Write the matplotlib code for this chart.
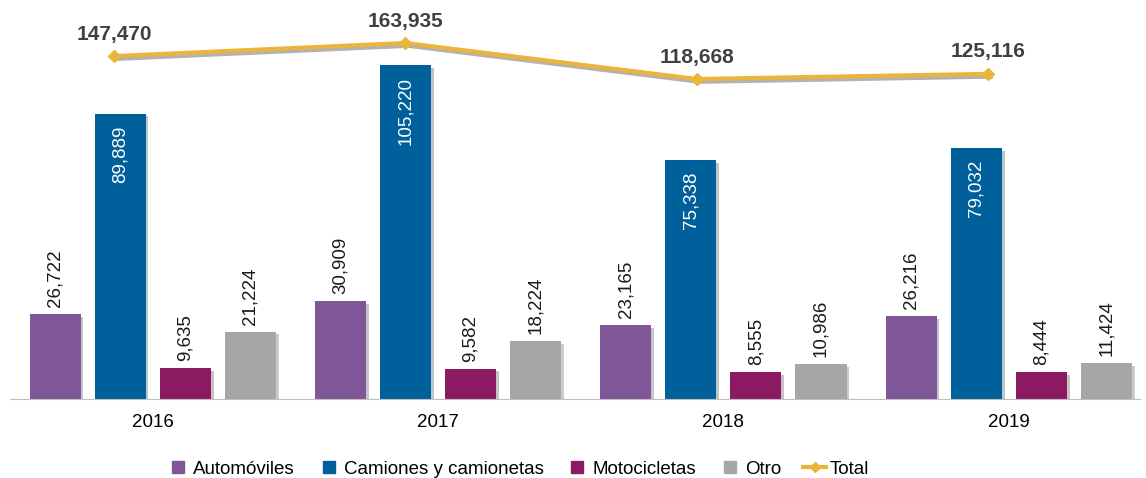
from matplotlib import pyplot as plt
from matplotlib.lines import Line2D
import matplotlib.patheffects as pe
import numpy as np

plt.rcParams['font.family'] = ['Liberation Sans', 'DejaVu Sans']

years = ['2016', '2017', '2018', '2019']
series_names = ['Automóviles', 'Camiones y camionetas', 'Motocicletas', 'Otro']
automoviles = [26722, 30909, 23165, 26216]
camiones = [89889, 105220, 75338, 79032]
motos = [9635, 9582, 8555, 8444]
otro = [21224, 18224, 10986, 11424]
total = [147470, 163935, 118668, 125116]

colours = ['#7F5799', '#00609C', '#8B1A62', '#A6A6A6']
line_colour = '#EBB53C'

fig = plt.figure(figsize=(11.46, 4.78), dpi=100)
rect = [10 / 1146, 79 / 478, 1130 / 1146, 389 / 478]
ax = fig.add_axes(rect)
# secondary axis (own x and y scale, like the excel original)
ax2 = fig.add_axes(rect, facecolor='none')

x = np.arange(len(years))
step = 0.228
width = 0.179
shadow = [pe.SimplePatchShadow(offset=(2, -2), alpha=0.25), pe.Normal()]

for i, (name, vals) in enumerate(zip(series_names, [automoviles, camiones, motos, otro])):
    pos = x + (i - 1.5) * step
    ax.bar(pos, vals, width, color=colours[i], label=name, path_effects=shadow, zorder=2)
    for p, v in zip(pos, vals):
        if i == 1:
            ax.text(p, v - 3800, f'{v:,}', rotation=90, ha='center', va='top',
                    color='white', fontsize=13.5)
        else:
            ax.text(p, v + 2200, f'{v:,}', rotation=90, ha='center', va='bottom',
                    color='#1a1a1a', fontsize=13.5)

ax2.plot(x, total, color=line_colour, lw=3,
         path_effects=[pe.SimpleLineShadow(offset=(2, -2), alpha=0.3), pe.Normal()])
ax2.plot(x, total, ls='none', marker='D', ms=6, color=line_colour)
for p, v in zip(x, total):
    ax2.annotate(f'{v:,}', (p, v), xytext=(0, 9), textcoords='offset points',
                 ha='center', va='bottom', fontsize=15, fontweight='bold', color='#404040')

ax.set_xlim(-0.5, 3.46)
ax.set_ylim(0, 122500)
ax2.set_xlim(-0.357, 3.522)
ax2.set_ylim(-284000, 205500)

ax.set_xticks(x)
ax.set_xticklabels(years, fontsize=13.5)
ax.tick_params(axis='x', length=0, pad=11)
ax.set_yticks([])
ax2.set_xticks([])
ax2.set_yticks([])
for s in ['top', 'left', 'right']:
    ax.spines[s].set_visible(False)
for s in ax2.spines.values():
    s.set_visible(False)
ax.spines['bottom'].set_color('#BFBFBF')

handles = [Line2D([], [], ls='none', marker='s', ms=8, color=c) for c in colours]
handles.append(Line2D([], [], color=line_colour, lw=3, marker='D', ms=5))
fig.legend(handles, series_names + ['Total'], loc='center', bbox_to_anchor=(518 / 1146, 9 / 478),
           ncol=5, frameon=False, fontsize=13.5, handlelength=1.2, handletextpad=0.2,
           columnspacing=1.2)

fig.savefig('out.png')
